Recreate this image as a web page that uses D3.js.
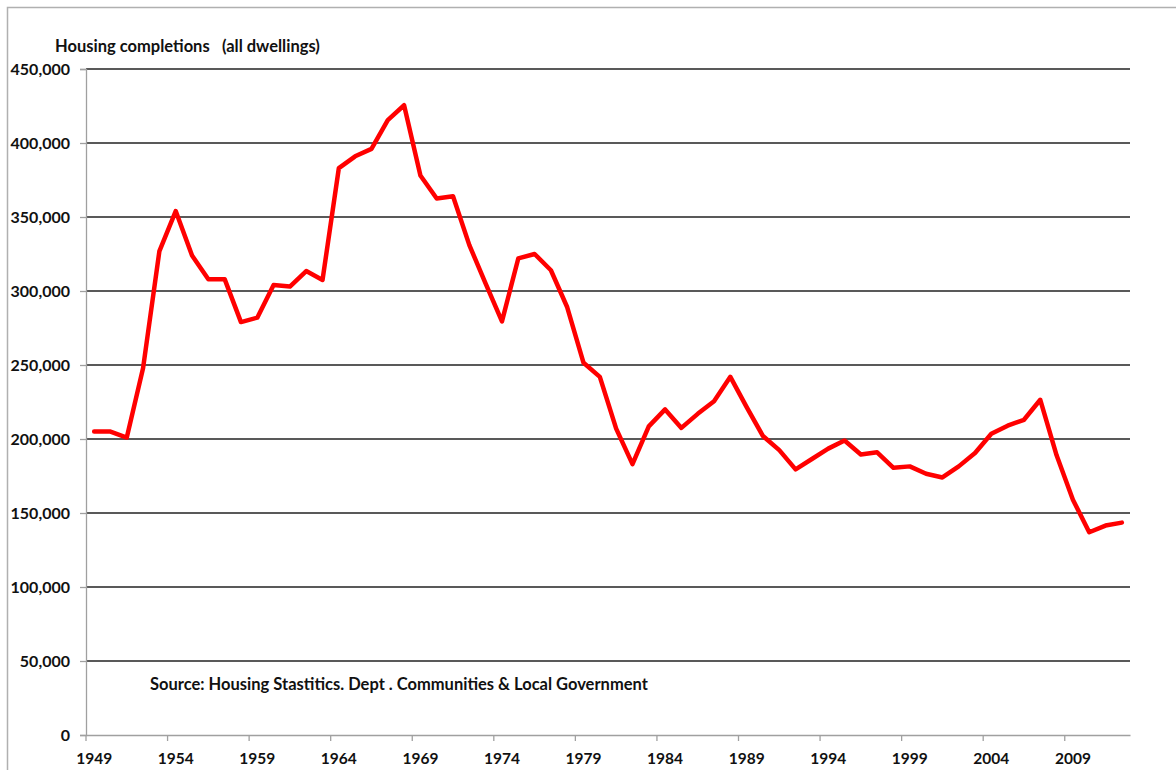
<!DOCTYPE html>
<html>
<head>
<meta charset="utf-8">
<script src="https://cdn.jsdelivr.net/npm/d3@7"></script>
<style>
  html, body { margin: 0; padding: 0; background: #fff; }
  svg { display: block; font-family: Lato, "Open Sans", sans-serif; }
</style>
</head>
<body>
<svg id="chart" width="1176" height="770"></svg>
<script>
const years = d3.range(1949, 2013);
const completions = [
  205000, 205000, 201000, 248000, 327000, 354000, 324000, 308000, 308000, 279000,
  282000, 304000, 303000, 313500, 307500, 383000, 391000, 396000, 415500, 425500,
  378000, 362500, 364000, 331000, 305000, 279500, 322000, 325000, 314000, 289000,
  251500, 242000, 207000, 183000, 208500, 220000, 207500, 217000, 225500, 242000,
  221500, 202000, 192500, 179500, 186500, 193500, 199000, 189500, 191000, 180500,
  181500, 176500, 174000, 181500, 190500, 203500, 209000, 213000, 226500, 189000,
  159000, 137000, 141500, 143500
];
const yTicks = [0, 50000, 100000, 150000, 200000, 250000, 300000, 350000, 400000, 450000];
const xTickYears = [1949, 1954, 1959, 1964, 1969, 1974, 1979, 1984, 1989, 1994, 1999, 2004, 2009];
const titleText = "Housing completions \u2002(all dwellings)";
const sourceText = "Source: Housing Stastitics. Dept . Communities & Local Government";

const svg = d3.select("#chart");
const mLeft = 86, mRight = 1130, mTop = 69, mBottom = 735;

// outer border
svg.append("rect").attr("x", 7.5).attr("y", 7.5).attr("width", 1200).attr("height", 800)
  .attr("fill", "none").attr("stroke", "#b0b0b0").attr("stroke-width", 1.5);

const x = d3.scaleBand().domain(years).range([mLeft, mRight]).paddingInner(0).paddingOuter(0);
const y = d3.scaleLinear().domain([0, 450000]).range([mBottom, mTop]);

// gridlines
svg.append("g").selectAll("line").data(yTicks.filter(d => d > 0)).join("line")
  .attr("x1", mLeft).attr("x2", mRight)
  .attr("y1", d => y(d)).attr("y2", d => y(d))
  .attr("stroke", "#222").attr("stroke-width", 1.6);

// y axis
const yAxis = svg.append("g").attr("transform", `translate(${mLeft},0)`)
  .call(d3.axisLeft(y).tickValues(yTicks).tickSize(6).tickPadding(10)
    .tickFormat(d3.format(",")));
yAxis.select(".domain").attr("stroke", "#a0a0a0").attr("stroke-width", 1.3);
yAxis.selectAll(".tick line").attr("stroke", "#a0a0a0").attr("stroke-width", 1.3);
yAxis.selectAll("text").attr("font-size", 16).attr("font-weight", "bold")
  .attr("fill", "#111").attr("font-family", "Lato, 'Open Sans', sans-serif");

// x axis
const xAxis = svg.append("g").attr("transform", `translate(0,${mBottom})`)
  .call(d3.axisBottom(x).tickValues(xTickYears).tickSize(6).tickPadding(12).tickSizeOuter(0));
xAxis.select(".domain").attr("stroke", "#a0a0a0").attr("stroke-width", 1.3);
xAxis.selectAll(".tick line").attr("stroke", "#a0a0a0").attr("stroke-width", 1.3)
  .attr("transform", `translate(${-x.bandwidth() / 2},0)`);
xAxis.selectAll("text").attr("font-size", 15.5).attr("font-weight", "bold")
  .attr("fill", "#111").attr("font-family", "Lato, 'Open Sans', sans-serif");

// line
const line = d3.line()
  .x((d, i) => x(years[i]) + x.bandwidth() / 2)
  .y(d => y(d));
svg.append("path").datum(completions)
  .attr("d", line).attr("fill", "none")
  .attr("stroke", "#ff0000").attr("stroke-width", 4.5)
  .attr("stroke-linejoin", "round").attr("stroke-linecap", "round");

// title
svg.append("text").attr("x", 55).attr("y", 52).text(titleText)
  .attr("font-size", 16.5).attr("font-weight", "bold").attr("fill", "#111");

// source
svg.append("text").attr("x", 150).attr("y", 690).text(sourceText)
  .attr("font-size", 16.5).attr("font-weight", "bold").attr("fill", "#111");
</script>
</body>
</html>
